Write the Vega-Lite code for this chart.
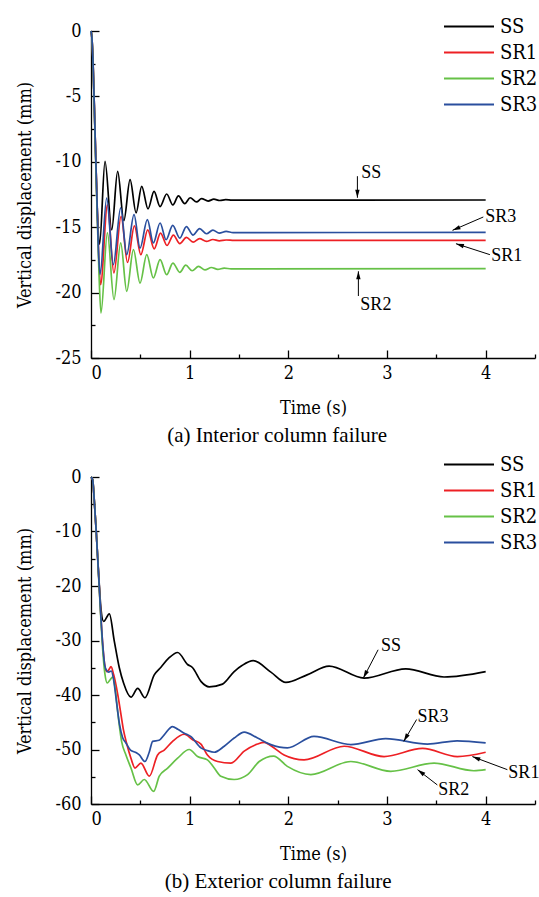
{
  "$schema": "https://vega.github.io/schema/vega-lite/v6.json",
  "padding": {"left": 16, "top": 13, "right": 0, "bottom": 0},
  "background": "white",
  "config": {
    "view": {"stroke": null},
    "axis": {
      "grid": false,
      "domainColor": "black",
      "domainWidth": 1.3,
      "tickColor": "black",
      "tickWidth": 1.3,
      "labelColor": "black",
      "titleColor": "black",
      "titleFontWeight": "normal"
    },
    "axisX": {"tickSize": -8, "labelPadding": 14, "titlePadding": 17},
    "axisY": {"tickSize": -8, "labelPadding": 18, "titlePadding": 20},
    "legend": {
      "orient": "none",
      "title": null,
      "padding": 0,
      "labelColor": "black",
      "labelOffset": 17.5,
      "symbolType": "M-2,0H2",
      "symbolSize": 625,
      "symbolStrokeWidth": 2,
      "rowPadding": 2
    },
    "title": {
      "font": "Liberation Serif",
      "fontSize": 21,
      "fontWeight": "normal",
      "color": "black",
      "orient": "bottom",
      "anchor": "middle",
      "frame": "bounds",
      "offset": 8
    }
  },
  "datasets": {
    "top": [
      {"series": "SS", "time": 0, "disp": 0}, {"series": "SS", "time": 0.01, "disp": -0.6}, {"series": "SS", "time": 0.02, "disp": -2.2},
      {"series": "SS", "time": 0.04, "disp": -7.5}, {"series": "SS", "time": 0.06, "disp": -12.8}, {"series": "SS", "time": 0.075, "disp": -15.6},
      {"series": "SS", "time": 0.087, "disp": -16.3}, {"series": "SS", "time": 0.142, "disp": -9.96}, {"series": "SS", "time": 0.21, "disp": -15.2},
      {"series": "SS", "time": 0.27, "disp": -10.73}, {"series": "SS", "time": 0.333, "disp": -14.5}, {"series": "SS", "time": 0.396, "disp": -11.37},
      {"series": "SS", "time": 0.457, "disp": -13.9}, {"series": "SS", "time": 0.514, "disp": -11.88}, {"series": "SS", "time": 0.578, "disp": -13.6},
      {"series": "SS", "time": 0.639, "disp": -12.26}, {"series": "SS", "time": 0.7, "disp": -13.42}, {"series": "SS", "time": 0.767, "disp": -12.46},
      {"series": "SS", "time": 0.83, "disp": -13.3}, {"series": "SS", "time": 0.886, "disp": -12.6}, {"series": "SS", "time": 0.95, "disp": -13.2},
      {"series": "SS", "time": 1.005, "disp": -12.75}, {"series": "SS", "time": 1.07, "disp": -13.07}, {"series": "SS", "time": 1.12, "disp": -12.82},
      {"series": "SS", "time": 1.187, "disp": -13.0}, {"series": "SS", "time": 1.245, "disp": -12.86}, {"series": "SS", "time": 1.305, "disp": -12.96},
      {"series": "SS", "time": 1.365, "disp": -12.89}, {"series": "SS", "time": 1.43, "disp": -12.93}, {"series": "SS", "time": 4.0, "disp": -12.92},

      {"series": "SR1", "time": 0, "disp": 0}, {"series": "SR1", "time": 0.01, "disp": -0.6}, {"series": "SR1", "time": 0.02, "disp": -2.2},
      {"series": "SR1", "time": 0.04, "disp": -7.5}, {"series": "SR1", "time": 0.06, "disp": -12.8}, {"series": "SR1", "time": 0.08, "disp": -17.6},
      {"series": "SR1", "time": 0.097, "disp": -19.4}, {"series": "SR1", "time": 0.167, "disp": -13.3}, {"series": "SR1", "time": 0.232, "disp": -18.5},
      {"series": "SR1", "time": 0.305, "disp": -14.17}, {"series": "SR1", "time": 0.37, "disp": -17.7}, {"series": "SR1", "time": 0.44, "disp": -14.9},
      {"series": "SR1", "time": 0.505, "disp": -17.1}, {"series": "SR1", "time": 0.575, "disp": -15.2}, {"series": "SR1", "time": 0.64, "disp": -16.65},
      {"series": "SR1", "time": 0.705, "disp": -15.45}, {"series": "SR1", "time": 0.77, "disp": -16.4}, {"series": "SR1", "time": 0.835, "disp": -15.6},
      {"series": "SR1", "time": 0.9, "disp": -16.25}, {"series": "SR1", "time": 0.967, "disp": -15.78}, {"series": "SR1", "time": 1.035, "disp": -16.14},
      {"series": "SR1", "time": 1.1, "disp": -15.88}, {"series": "SR1", "time": 1.17, "disp": -16.08}, {"series": "SR1", "time": 1.235, "disp": -15.94},
      {"series": "SR1", "time": 1.3, "disp": -16.04}, {"series": "SR1", "time": 1.37, "disp": -15.98}, {"series": "SR1", "time": 1.45, "disp": -16.01},
      {"series": "SR1", "time": 4.0, "disp": -16.0},

      {"series": "SR2", "time": 0, "disp": 0}, {"series": "SR2", "time": 0.01, "disp": -0.6}, {"series": "SR2", "time": 0.02, "disp": -2.3},
      {"series": "SR2", "time": 0.04, "disp": -7.8}, {"series": "SR2", "time": 0.06, "disp": -13.3}, {"series": "SR2", "time": 0.08, "disp": -18.3},
      {"series": "SR2", "time": 0.101, "disp": -21.56}, {"series": "SR2", "time": 0.166, "disp": -15.44}, {"series": "SR2", "time": 0.233, "disp": -20.54},
      {"series": "SR2", "time": 0.301, "disp": -16.2}, {"series": "SR2", "time": 0.362, "disp": -19.9}, {"series": "SR2", "time": 0.43, "disp": -16.72},
      {"series": "SR2", "time": 0.497, "disp": -19.27}, {"series": "SR2", "time": 0.565, "disp": -17.1}, {"series": "SR2", "time": 0.632, "disp": -18.88},
      {"series": "SR2", "time": 0.7, "disp": -17.48}, {"series": "SR2", "time": 0.767, "disp": -18.63}, {"series": "SR2", "time": 0.83, "disp": -17.74},
      {"series": "SR2", "time": 0.9, "disp": -18.45}, {"series": "SR2", "time": 0.96, "disp": -17.9}, {"series": "SR2", "time": 1.025, "disp": -18.33},
      {"series": "SR2", "time": 1.09, "disp": -18.0}, {"series": "SR2", "time": 1.155, "disp": -18.26}, {"series": "SR2", "time": 1.22, "disp": -18.08},
      {"series": "SR2", "time": 1.285, "disp": -18.22}, {"series": "SR2", "time": 1.35, "disp": -18.13}, {"series": "SR2", "time": 1.42, "disp": -18.19},
      {"series": "SR2", "time": 4.0, "disp": -18.17},

      {"series": "SR3", "time": 0, "disp": 0}, {"series": "SR3", "time": 0.01, "disp": -0.6}, {"series": "SR3", "time": 0.02, "disp": -2.2},
      {"series": "SR3", "time": 0.04, "disp": -7.5}, {"series": "SR3", "time": 0.06, "disp": -12.8}, {"series": "SR3", "time": 0.078, "disp": -17.2},
      {"series": "SR3", "time": 0.092, "disp": -18.6}, {"series": "SR3", "time": 0.159, "disp": -12.77}, {"series": "SR3", "time": 0.226, "disp": -17.87},
      {"series": "SR3", "time": 0.301, "disp": -13.53}, {"series": "SR3", "time": 0.362, "disp": -17.1}, {"series": "SR3", "time": 0.436, "disp": -14.04},
      {"series": "SR3", "time": 0.497, "disp": -16.6}, {"series": "SR3", "time": 0.571, "disp": -14.42}, {"series": "SR3", "time": 0.632, "disp": -16.2},
      {"series": "SR3", "time": 0.7, "disp": -14.68}, {"series": "SR3", "time": 0.761, "disp": -15.96}, {"series": "SR3", "time": 0.828, "disp": -14.86},
      {"series": "SR3", "time": 0.9, "disp": -15.83}, {"series": "SR3", "time": 0.967, "disp": -14.95}, {"series": "SR3", "time": 1.035, "disp": -15.6},
      {"series": "SR3", "time": 1.1, "disp": -15.11}, {"series": "SR3", "time": 1.17, "disp": -15.5}, {"series": "SR3", "time": 1.235, "disp": -15.23},
      {"series": "SR3", "time": 1.3, "disp": -15.45}, {"series": "SR3", "time": 1.37, "disp": -15.32}, {"series": "SR3", "time": 1.44, "disp": -15.41},
      {"series": "SR3", "time": 4.0, "disp": -15.4}
    ],
    "bottom": [
      {"series": "SS", "time": 0, "disp": 0}, {"series": "SS", "time": 0.017, "disp": -0.5}, {"series": "SS", "time": 0.034, "disp": -4.5},
      {"series": "SS", "time": 0.051, "disp": -9.4}, {"series": "SS", "time": 0.068, "disp": -14.9}, {"series": "SS", "time": 0.084, "disp": -19.8},
      {"series": "SS", "time": 0.1, "disp": -24.0}, {"series": "SS", "time": 0.128, "disp": -26.5}, {"series": "SS", "time": 0.186, "disp": -25.1},
      {"series": "SS", "time": 0.236, "disp": -30.1}, {"series": "SS", "time": 0.287, "disp": -35.0}, {"series": "SS", "time": 0.33, "disp": -37.8},
      {"series": "SS", "time": 0.405, "disp": -40.4}, {"series": "SS", "time": 0.473, "disp": -38.8}, {"series": "SS", "time": 0.547, "disp": -40.5},
      {"series": "SS", "time": 0.641, "disp": -36.3}, {"series": "SS", "time": 0.709, "disp": -34.9}, {"series": "SS", "time": 0.79, "disp": -33.2},
      {"series": "SS", "time": 0.878, "disp": -32.2}, {"series": "SS", "time": 0.979, "disp": -34.4}, {"series": "SS", "time": 1.03, "disp": -35.0},
      {"series": "SS", "time": 1.114, "disp": -37.5}, {"series": "SS", "time": 1.198, "disp": -38.5}, {"series": "SS", "time": 1.333, "disp": -38.0},
      {"series": "SS", "time": 1.451, "disp": -35.7}, {"series": "SS", "time": 1.53, "disp": -34.6}, {"series": "SS", "time": 1.644, "disp": -33.7},
      {"series": "SS", "time": 1.823, "disp": -35.8}, {"series": "SS", "time": 1.975, "disp": -37.7}, {"series": "SS", "time": 2.19, "disp": -36.3},
      {"series": "SS", "time": 2.413, "disp": -34.7}, {"series": "SS", "time": 2.768, "disp": -36.9}, {"series": "SS", "time": 3.19, "disp": -35.2},
      {"series": "SS", "time": 3.578, "disp": -36.7}, {"series": "SS", "time": 4.0, "disp": -35.7},

      {"series": "SR1", "time": 0, "disp": 0}, {"series": "SR1", "time": 0.017, "disp": -0.5}, {"series": "SR1", "time": 0.034, "disp": -4.5},
      {"series": "SR1", "time": 0.051, "disp": -9.4}, {"series": "SR1", "time": 0.068, "disp": -14.9}, {"series": "SR1", "time": 0.084, "disp": -20.2},
      {"series": "SR1", "time": 0.1, "disp": -25.5}, {"series": "SR1", "time": 0.12, "disp": -31.0}, {"series": "SR1", "time": 0.14, "disp": -34.6},
      {"series": "SR1", "time": 0.16, "disp": -35.7}, {"series": "SR1", "time": 0.18, "disp": -35.4}, {"series": "SR1", "time": 0.203, "disp": -34.8},
      {"series": "SR1", "time": 0.23, "disp": -36.3}, {"series": "SR1", "time": 0.27, "disp": -39.8}, {"series": "SR1", "time": 0.304, "disp": -43.6},
      {"series": "SR1", "time": 0.33, "disp": -46.5}, {"series": "SR1", "time": 0.36, "disp": -48.8}, {"series": "SR1", "time": 0.405, "disp": -51.6},
      {"series": "SR1", "time": 0.446, "disp": -53.4}, {"series": "SR1", "time": 0.506, "disp": -52.5}, {"series": "SR1", "time": 0.591, "disp": -54.9},
      {"series": "SR1", "time": 0.675, "disp": -51.0}, {"series": "SR1", "time": 0.742, "disp": -50.1}, {"series": "SR1", "time": 0.827, "disp": -48.5},
      {"series": "SR1", "time": 0.945, "disp": -47.2}, {"series": "SR1", "time": 1.03, "disp": -48.2}, {"series": "SR1", "time": 1.114, "disp": -49.0},
      {"series": "SR1", "time": 1.18, "disp": -51.0}, {"series": "SR1", "time": 1.283, "disp": -52.2}, {"series": "SR1", "time": 1.418, "disp": -52.5},
      {"series": "SR1", "time": 1.553, "disp": -50.3}, {"series": "SR1", "time": 1.688, "disp": -49.0}, {"series": "SR1", "time": 1.755, "disp": -48.7},
      {"series": "SR1", "time": 1.823, "disp": -49.3}, {"series": "SR1", "time": 1.957, "disp": -51.0}, {"series": "SR1", "time": 2.16, "disp": -51.9},
      {"series": "SR1", "time": 2.565, "disp": -49.4}, {"series": "SR1", "time": 2.97, "disp": -51.3}, {"series": "SR1", "time": 3.36, "disp": -49.8},
      {"series": "SR1", "time": 3.713, "disp": -51.3}, {"series": "SR1", "time": 4.0, "disp": -50.5},

      {"series": "SR2", "time": 0, "disp": 0}, {"series": "SR2", "time": 0.017, "disp": -0.5}, {"series": "SR2", "time": 0.034, "disp": -4.5},
      {"series": "SR2", "time": 0.051, "disp": -9.4}, {"series": "SR2", "time": 0.068, "disp": -15.0}, {"series": "SR2", "time": 0.084, "disp": -20.5},
      {"series": "SR2", "time": 0.1, "disp": -26.0}, {"series": "SR2", "time": 0.12, "disp": -32.0}, {"series": "SR2", "time": 0.14, "disp": -36.0},
      {"series": "SR2", "time": 0.165, "disp": -37.8}, {"series": "SR2", "time": 0.19, "disp": -37.3}, {"series": "SR2", "time": 0.22, "disp": -36.7},
      {"series": "SR2", "time": 0.245, "disp": -38.8}, {"series": "SR2", "time": 0.27, "disp": -43.0}, {"series": "SR2", "time": 0.31, "disp": -48.5},
      {"series": "SR2", "time": 0.354, "disp": -51.0}, {"series": "SR2", "time": 0.405, "disp": -53.4}, {"series": "SR2", "time": 0.473, "disp": -56.5},
      {"series": "SR2", "time": 0.54, "disp": -55.5}, {"series": "SR2", "time": 0.635, "disp": -57.7}, {"series": "SR2", "time": 0.692, "disp": -54.9},
      {"series": "SR2", "time": 0.777, "disp": -53.4}, {"series": "SR2", "time": 0.878, "disp": -51.6}, {"series": "SR2", "time": 0.996, "disp": -50.0},
      {"series": "SR2", "time": 1.08, "disp": -51.3}, {"series": "SR2", "time": 1.18, "disp": -51.9}, {"series": "SR2", "time": 1.249, "disp": -53.4},
      {"series": "SR2", "time": 1.316, "disp": -54.9}, {"series": "SR2", "time": 1.451, "disp": -55.5}, {"series": "SR2", "time": 1.587, "disp": -54.6},
      {"series": "SR2", "time": 1.705, "disp": -52.2}, {"series": "SR2", "time": 1.85, "disp": -51.2}, {"series": "SR2", "time": 1.99, "disp": -53.1},
      {"series": "SR2", "time": 2.228, "disp": -54.6}, {"series": "SR2", "time": 2.633, "disp": -52.2}, {"series": "SR2", "time": 3.038, "disp": -54.0},
      {"series": "SR2", "time": 3.477, "disp": -52.5}, {"series": "SR2", "time": 3.88, "disp": -53.9}, {"series": "SR2", "time": 4.0, "disp": -53.7},

      {"series": "SR3", "time": 0, "disp": 0}, {"series": "SR3", "time": 0.017, "disp": -0.5}, {"series": "SR3", "time": 0.034, "disp": -4.5},
      {"series": "SR3", "time": 0.051, "disp": -9.4}, {"series": "SR3", "time": 0.068, "disp": -14.9}, {"series": "SR3", "time": 0.084, "disp": -20.2},
      {"series": "SR3", "time": 0.1, "disp": -25.5}, {"series": "SR3", "time": 0.12, "disp": -31.0}, {"series": "SR3", "time": 0.14, "disp": -34.6},
      {"series": "SR3", "time": 0.158, "disp": -35.5}, {"series": "SR3", "time": 0.18, "disp": -35.8}, {"series": "SR3", "time": 0.205, "disp": -35.6},
      {"series": "SR3", "time": 0.23, "disp": -37.3}, {"series": "SR3", "time": 0.26, "disp": -41.5}, {"series": "SR3", "time": 0.29, "disp": -45.5},
      {"series": "SR3", "time": 0.32, "disp": -47.8}, {"series": "SR3", "time": 0.354, "disp": -48.8}, {"series": "SR3", "time": 0.4, "disp": -50.1},
      {"series": "SR3", "time": 0.46, "disp": -50.6}, {"series": "SR3", "time": 0.49, "disp": -51.0}, {"series": "SR3", "time": 0.547, "disp": -52.2},
      {"series": "SR3", "time": 0.59, "disp": -50.5}, {"series": "SR3", "time": 0.625, "disp": -48.5}, {"series": "SR3", "time": 0.69, "disp": -48.3},
      {"series": "SR3", "time": 0.742, "disp": -47.3}, {"series": "SR3", "time": 0.827, "disp": -45.8}, {"series": "SR3", "time": 0.88, "disp": -46.3},
      {"series": "SR3", "time": 0.945, "disp": -47.0}, {"series": "SR3", "time": 1.01, "disp": -47.6}, {"series": "SR3", "time": 1.114, "disp": -49.7},
      {"series": "SR3", "time": 1.18, "disp": -50.2}, {"series": "SR3", "time": 1.249, "disp": -50.5}, {"series": "SR3", "time": 1.35, "disp": -49.4},
      {"series": "SR3", "time": 1.451, "disp": -47.9}, {"series": "SR3", "time": 1.553, "disp": -46.8}, {"series": "SR3", "time": 1.688, "disp": -47.9},
      {"series": "SR3", "time": 1.823, "disp": -49.1}, {"series": "SR3", "time": 1.99, "disp": -49.7}, {"series": "SR3", "time": 2.26, "disp": -47.6},
      {"series": "SR3", "time": 2.633, "disp": -49.1}, {"series": "SR3", "time": 2.987, "disp": -48.0}, {"series": "SR3", "time": 3.41, "disp": -49.0},
      {"series": "SR3", "time": 3.71, "disp": -48.4}, {"series": "SR3", "time": 4.0, "disp": -48.8}
    ],
    "notesTop": [
      {"label": "SS", "tx": 2.74, "ty": -10.85, "x1": 2.7, "y1": -11.1, "x2": 2.7, "y2": -12.75, "angle": 180},
      {"label": "SR3", "tx": 3.996, "ty": -14.22, "x1": 3.976, "y1": -14.22, "x2": 3.664, "y2": -15.24, "angle": 246.6},
      {"label": "SR1", "tx": 4.057, "ty": -17.2, "x1": 4.043, "y1": -17.1, "x2": 3.699, "y2": -16.26, "angle": 287.9},
      {"label": "SR2", "tx": 2.73, "ty": -20.95, "x1": 2.71, "y1": -20.26, "x2": 2.71, "y2": -18.37, "angle": 0}
    ],
    "notesBottom": [
      {"label": "SS", "tx": 2.94, "ty": -31.0, "x1": 2.91, "y1": -31.7, "x2": 2.76, "y2": -36.9, "angle": 207.3},
      {"label": "SR3", "tx": 3.31, "ty": -44.0, "x1": 3.3, "y1": -44.5, "x2": 3.17, "y2": -48.5, "angle": 209.9},
      {"label": "SR1", "tx": 4.23, "ty": -54.3, "x1": 4.22, "y1": -53.7, "x2": 3.865, "y2": -51.3, "angle": 291},
      {"label": "SR2", "tx": 3.52, "ty": -57.4, "x1": 3.51, "y1": -56.5, "x2": 3.31, "y2": -53.7, "angle": 306.9}
    ]
  },
  "vconcat": [
    {
      "width": 444,
      "height": 327,
      "title": {"text": "(a) Interior column failure"},
      "layer": [
        {
          "data": {"name": "top"},
          "mark": {"type": "line", "interpolate": "monotone", "strokeWidth": 1.7},
          "encoding": {
            "x": {"field": "time", "type": "quantitative", "scale": {"domain": [0, 4.5], "nice": false},
                  "axis": {"title": "Time (s)", "values": [0, 1, 2, 3, 4], "orient": "bottom", "labelFont": "DejaVu Serif Condensed", "titleFont": "DejaVu Serif Condensed", "labelFontSize": 18, "titleFontSize": 18}},
            "y": {"field": "disp", "type": "quantitative", "scale": {"domain": [-25, 0], "nice": false},
                  "axis": {"title": "Vertical displacement (mm)", "values": [0, -5, -10, -15, -20, -25], "labelExpr": "'' + datum.value", "orient": "left", "labelFont": "DejaVu Serif Condensed", "titleFont": "DejaVu Serif Condensed", "labelFontSize": 18, "titleFontSize": 18}},
            "color": {"field": "series", "type": "nominal",
                      "scale": {"domain": ["SS", "SR1", "SR2", "SR3"], "range": ["#000000", "#ed2024", "#66c147", "#2a4f9e"]},
                      "legend": {"legendX": 364.5, "legendY": -18, "labelFont": "DejaVu Serif Condensed", "labelFontSize": 20}}
          }
        },
        {
          "data": {"name": "notesTop"},
          "mark": {"type": "rule", "color": "black", "strokeWidth": 1},
          "encoding": {
            "x": {"field": "x1", "type": "quantitative", "scale": {"domain": [0, 4.5], "nice": false},
                  "axis": {"title": null, "values": [0.5, 1.5, 2.5, 3.5, 4.5], "labels": false, "domain": false, "tickSize": -4, "orient": "bottom"}},
            "y": {"field": "y1", "type": "quantitative", "scale": {"domain": [-25, 0], "nice": false},
                  "axis": {"title": null, "values": [-2.5, -7.5, -12.5, -17.5, -22.5], "labels": false, "domain": false, "tickSize": -4, "orient": "left"}},
            "x2": {"field": "x2"},
            "y2": {"field": "y2"}
          }
        },
        {
          "data": {"name": "notesTop"},
          "mark": {"type": "point", "shape": "M0,0L0.55,2L-0.55,2Z", "filled": true, "color": "black", "size": 64, "opacity": 1},
          "encoding": {
            "x": {"field": "x2", "type": "quantitative", "axis": null},
            "y": {"field": "y2", "type": "quantitative", "axis": null},
            "angle": {"field": "angle", "type": "quantitative", "scale": null}
          }
        },
        {
          "data": {"name": "notesTop"},
          "mark": {"type": "text", "align": "left", "baseline": "middle", "font": "Liberation Serif", "fontSize": 18, "color": "black"},
          "encoding": {
            "x": {"field": "tx", "type": "quantitative", "axis": null},
            "y": {"field": "ty", "type": "quantitative", "axis": null},
            "text": {"field": "label"}
          }
        }
      ],
      "resolve": {"axis": {"x": "independent", "y": "independent"}}
    },
    {
      "width": 444,
      "height": 327,
      "title": {"text": "(b) Exterior column failure"},
      "layer": [
        {
          "data": {"name": "bottom"},
          "mark": {"type": "line", "interpolate": "monotone", "strokeWidth": 1.7},
          "encoding": {
            "x": {"field": "time", "type": "quantitative", "scale": {"domain": [0, 4.5], "nice": false},
                  "axis": {"title": "Time (s)", "values": [0, 1, 2, 3, 4], "orient": "bottom", "labelFont": "DejaVu Serif Condensed", "titleFont": "DejaVu Serif Condensed", "labelFontSize": 18, "titleFontSize": 18}},
            "y": {"field": "disp", "type": "quantitative", "scale": {"domain": [-60, 0], "nice": false},
                  "axis": {"title": "Vertical displacement (mm)", "values": [0, -10, -20, -30, -40, -50, -60], "labelExpr": "'' + datum.value", "orient": "left", "labelFont": "DejaVu Serif Condensed", "titleFont": "DejaVu Serif Condensed", "labelFontSize": 18, "titleFontSize": 18}},
            "color": {"field": "series", "type": "nominal",
                      "scale": {"domain": ["SS", "SR1", "SR2", "SR3"], "range": ["#000000", "#ed2024", "#66c147", "#2a4f9e"]},
                      "legend": {"legendX": 364.5, "legendY": -26, "labelFont": "DejaVu Serif Condensed", "labelFontSize": 20}}
          }
        },
        {
          "data": {"name": "notesBottom"},
          "mark": {"type": "rule", "color": "black", "strokeWidth": 1},
          "encoding": {
            "x": {"field": "x1", "type": "quantitative", "scale": {"domain": [0, 4.5], "nice": false},
                  "axis": {"title": null, "values": [0.5, 1.5, 2.5, 3.5, 4.5], "labels": false, "domain": false, "tickSize": -4, "orient": "bottom"}},
            "y": {"field": "y1", "type": "quantitative", "scale": {"domain": [-60, 0], "nice": false},
                  "axis": {"title": null, "values": [-5, -15, -25, -35, -45, -55], "labels": false, "domain": false, "tickSize": -4, "orient": "left"}},
            "x2": {"field": "x2"},
            "y2": {"field": "y2"}
          }
        },
        {
          "data": {"name": "notesBottom"},
          "mark": {"type": "point", "shape": "M0,0L0.55,2L-0.55,2Z", "filled": true, "color": "black", "size": 64, "opacity": 1},
          "encoding": {
            "x": {"field": "x2", "type": "quantitative", "axis": null},
            "y": {"field": "y2", "type": "quantitative", "axis": null},
            "angle": {"field": "angle", "type": "quantitative", "scale": null}
          }
        },
        {
          "data": {"name": "notesBottom"},
          "mark": {"type": "text", "align": "left", "baseline": "middle", "font": "Liberation Serif", "fontSize": 18, "color": "black"},
          "encoding": {
            "x": {"field": "tx", "type": "quantitative", "axis": null},
            "y": {"field": "ty", "type": "quantitative", "axis": null},
            "text": {"field": "label"}
          }
        }
      ],
      "resolve": {"axis": {"x": "independent", "y": "independent"}}
    }
  ],
  "spacing": 5,
  "resolve": {"legend": {"color": "independent"}}
}
